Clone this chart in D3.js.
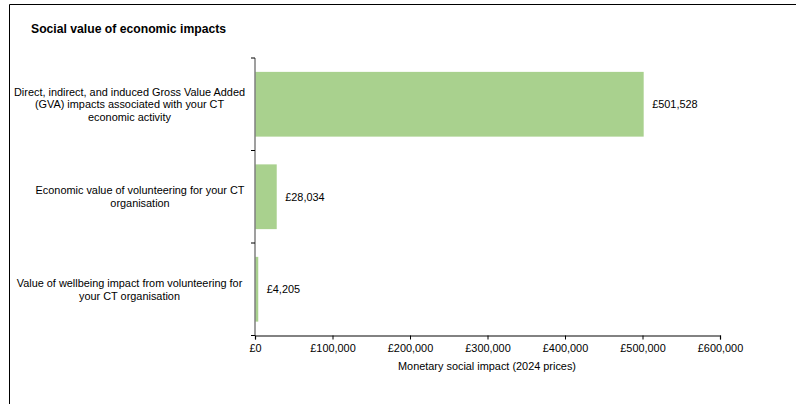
<!DOCTYPE html>
<html><head><meta charset="utf-8">
<script src="https://cdn.jsdelivr.net/npm/d3@7"></script>
<style>body{margin:0;background:#fff}svg{display:block}text{font-family:"Liberation Sans",Arial,sans-serif;fill:#000}</style>
</head><body>
<script>
const categories = [
  ["Direct, indirect, and induced Gross Value Added","(GVA) impacts associated with your CT","economic activity"],
  ["Economic value of volunteering for your CT","organisation"],
  ["Value of wellbeing impact from volunteering for","your CT organisation"]
];
const values = [501528, 28034, 4205];
const xTicks = [0, 100000, 200000, 300000, 400000, 500000, 600000];
const title = "Social value of economic impacts";
const xTitle = "Monetary social impact (2024 prices)";

const W = 796, H = 404;
const svg = d3.select("body").append("svg").attr("width", W).attr("height", H);
// frame
svg.append("line").attr("x1",9.5).attr("x2",W).attr("y1",4.5).attr("y2",4.5).attr("stroke","#000").attr("stroke-width",1);
svg.append("line").attr("x1",9.5).attr("x2",9.5).attr("y1",4.5).attr("y2",H).attr("stroke","#000").attr("stroke-width",1);

svg.append("text").attr("x",31).attr("y",32.5).attr("font-size",12.2).attr("font-weight","bold").text(title);

const x = d3.scaleLinear().domain([0,600000]).range([255,720]);
const y = d3.scaleBand().domain(d3.range(values.length)).range([58,335.5]).paddingInner(0.3).paddingOuter(0.15);
const yb = d3.scaleBand().domain(d3.range(values.length)).range([58,335.5]);

svg.selectAll("rect.bar").data(values).join("rect").attr("class","bar")
  .attr("x", x(0)).attr("y",(d,i)=>y(i)).attr("width",d=>x(d)-x(0)).attr("height",y.bandwidth())
  .attr("fill","#a9d18e");

// y axis
svg.append("line").attr("x1",x(0)).attr("x2",x(0)).attr("y1",58).attr("y2",335.5).attr("stroke","#7f7f7f").attr("stroke-width",1.5);
const yTickPos = d3.range(values.length+1).map(i=> i<values.length ? yb(i) : 335.5);
svg.selectAll("line.ytick").data(yTickPos).join("line").attr("class","ytick")
  .attr("x1",x(0)-4).attr("x2",x(0)).attr("y1",d=>d).attr("y2",d=>d).attr("stroke","#000").attr("stroke-width",1);

// x axis
const xAxis = d3.axisBottom(x).tickValues(xTicks).tickSize(4).tickFormat(d=>"£"+d3.format(",")(d));
const gx = svg.append("g").attr("transform","translate(0,335.5)").call(xAxis);
gx.select(".domain").attr("stroke","#595959").attr("stroke-width",1.3);
gx.selectAll(".tick line").attr("stroke","#000");
gx.selectAll(".tick text").attr("font-size",10.9).attr("dy",0).attr("y",16.5).attr("fill","#000")
  .style("font-family","'Liberation Sans',Arial,sans-serif");

svg.append("text").attr("x",487).attr("y",369.5).attr("text-anchor","middle").attr("font-size",10.9).text(xTitle);

// category labels
const lh = 12.6;
const labelCx = [129.5, 140, 129.5];
categories.forEach((lines,i)=>{
  const cy = y(i)+y.bandwidth()/2;
  const t = svg.append("text").attr("text-anchor","middle").attr("font-size",10.9);
  lines.forEach((l,j)=>{
    t.append("tspan").attr("x",labelCx[i]).attr("y", cy + (j-(lines.length-1)/2)*lh + 4).text(l);
  });
});

// value labels
svg.selectAll("text.val").data(values).join("text").attr("class","val")
  .attr("x",d=>x(d)+8.5).attr("y",(d,i)=>y(i)+y.bandwidth()/2+4).attr("font-size",10.9)
  .text(d=>"£"+d3.format(",")(d));
</script>
</body></html>
